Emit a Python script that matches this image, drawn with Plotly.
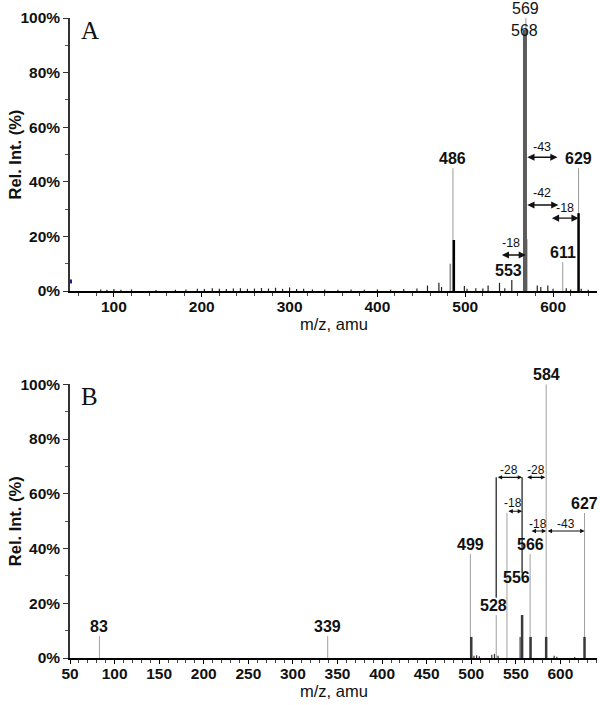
import plotly.graph_objects as go

# ---- Panel A data (m/z, relative intensity %) ----
a_leader_mz = [486, 569, 611, 629]
a_leader_top = [45, 100, 10.6, 45]
a_black_mz = [487, 629]
a_black_top = [18.7, 28.5]
a_grey_mz = [483, 570]
a_grey_top = [10, 19]
a_base_mz = [568]
a_base_top = [95.6]
a_noise_mz = [85, 92, 100, 108, 120, 148, 170, 182, 195, 203, 212, 220, 228, 236, 244,
              252, 260, 268, 276, 284, 292, 300, 308, 316, 326, 340, 355, 370, 385, 400,
              415, 430, 445, 457, 470, 473, 499, 502, 512, 520, 526, 539, 545, 553, 582,
              586, 594, 600, 615, 620, 632, 640]
a_noise_int = [0.6, 0.5, 0.7, 0.5, 0.6, 0.4, 0.5, 0.6, 0.8, 0.7, 1.0, 0.8, 0.7, 0.9, 1.0,
               0.8, 0.9, 1.1, 0.9, 1.2, 0.8, 1.3, 0.7, 0.8, 0.6, 0.6, 0.5, 0.6, 0.5, 0.6,
               0.5, 0.7, 0.9, 2.0, 3.0, 1.5, 1.8, 0.8, 1.0, 0.9, 2.0, 3.0, 1.0, 4.0, 2.0,
               1.5, 2.0, 0.8, 1.0, 0.6, 0.8, 0.5]
a_labels = ["486", "569", "568", "553", "611", "629"]
a_label_x = [486, 569, 568, 549, 611, 629]
a_label_y = [45, 100, 92, 4, 10.6, 45]
a_label_bold = [True, False, False, True, True, True]
# loss arrows
a_arrow_from = [569, 569, 597, 540]
a_arrow_to = [605, 606, 629, 569]
a_arrow_y = [49, 31.5, 26.7, 13.2]
a_arrow_txt = ["-43", "-42", "-18", "-18"]
a_arrow_tx = [587, 587, 614, 552]
a_arrow_ty = [52.7, 36, 30.4, 17.6]

# ---- Panel B data ----
b_leader_mz = [83, 339, 499, 528, 540, 566, 584, 627]
b_leader_top = [8, 8, 38, 15.7, 53, 38, 100, 53]
b_black_mz = [500, 557, 566.5, 584, 627]
b_black_top = [7.7, 15.7, 7.7, 7.7, 7.7]
b_grey_mz = [555]
b_grey_top = [7.7]
b_bracket_mz = [528, 557]
b_bracket_low = [22, 31]
b_bracket_high = [66, 66]
b_noise_mz = [503, 506, 509, 523, 526, 530, 593, 596, 616]
b_noise_int = [0.8, 1.0, 0.6, 1.2, 1.5, 0.8, 0.8, 0.5, 0.4]
b_labels = ["83", "339", "499", "528", "556", "566", "584", "627"]
b_label_x = [83, 339, 499, 524.5, 551, 566, 584, 627]
b_label_y = [8, 8, 38, 15.7, 26, 38, 100, 53]
b_label_bold = [True] * 8
b_arrow_from = [528, 561, 540, 566, 584]
b_arrow_to = [557, 583, 557, 584, 627]
b_arrow_y = [66, 66, 53.6, 46.4, 46.4]
b_arrow_txt = ["-28", "-28", "-18", "-18", "-43"]
b_arrow_tx = [542.6, 572.5, 546.7, 574.6, 606.7]
b_arrow_ty = [68.6, 68.6, 56.6, 49, 49]

y_ticks = [0, 20, 40, 60, 80, 100]
y_ticktext = ["0%", "20%", "40%", "60%", "80%", "100%"]

FONT = "Liberation Sans, Arial, sans-serif"


def sticks(mz, top, low=None):
    xs, ys = [], []
    for i, (m, t) in enumerate(zip(mz, top)):
        b = 0 if low is None else low[i]
        xs += [m, m, None]
        ys += [b, t, None]
    return xs, ys


fig = go.Figure()


def add_sticks(mz, top, color, width, xa, ya, low=None):
    xs, ys = sticks(mz, top, low)
    fig.add_trace(go.Scatter(x=xs, y=ys, mode="lines", line=dict(color=color, width=width),
                             xaxis=xa, yaxis=ya, hoverinfo="skip", showlegend=False,
                             cliponaxis=False))


# panel A
add_sticks(a_noise_mz, a_noise_int, "#222", 1.2, "x", "y")
add_sticks(a_leader_mz, a_leader_top, "#9a9a9a", 1, "x", "y")
add_sticks(a_grey_mz, a_grey_top, "#8a8a8a", 1.6, "x", "y")
add_sticks(a_base_mz, a_base_top, "#5c5c5c", 4, "x", "y")
add_sticks(a_black_mz, a_black_top, "#000", 2.5, "x", "y")
fig.add_trace(go.Scatter(x=[50], y=[3.5], mode="markers", xaxis="x", yaxis="y",
                         marker=dict(symbol="square", size=4, color="#202080"),
                         showlegend=False, cliponaxis=False, hoverinfo="skip"))

# panel B
add_sticks(b_noise_mz, b_noise_int, "#333", 1.2, "x2", "y2")
add_sticks(b_leader_mz, b_leader_top, "#a0a0a0", 1, "x2", "y2")
add_sticks(b_grey_mz, b_grey_top, "#777", 2, "x2", "y2")
add_sticks(b_black_mz, b_black_top, "#3a3a3a", 2.5, "x2", "y2")
add_sticks(b_bracket_mz, b_bracket_high, "#444", 1.5, "x2", "y2", low=b_bracket_low)

ann = []


def peak_labels(labels, lx, ly, bold, xr, yr, size=16):
    for t, x, y, b in zip(labels, lx, ly, bold):
        ann.append(dict(x=x, y=y, xref=xr, yref=yr, text=t, showarrow=False,
                        yanchor="bottom", yshift=-1,
                        font=dict(family=FONT, size=size, color="#111",
                                  weight="bold" if b else "normal")))


def loss_arrows(f, t, lev, txt, tx, ty, xr, yr, size=12.5, asize=1.1, awidth=1.3):
    for a, b, y, s, x2, y2 in zip(f, t, lev, txt, tx, ty):
        ann.append(dict(x=b, y=y, ax=a, ay=y, xref=xr, yref=yr, axref=xr, ayref=yr,
                        text="", showarrow=True, arrowhead=2, startarrowhead=2,
                        arrowside="end+start", arrowsize=asize, startarrowsize=asize,
                        arrowwidth=awidth, arrowcolor="#111"))
        ann.append(dict(x=x2, y=y2, xref=xr, yref=yr, text=s, showarrow=False,
                        font=dict(family=FONT, size=size, color="#111")))


peak_labels(a_labels, a_label_x, a_label_y, a_label_bold, "x", "y")
loss_arrows(a_arrow_from, a_arrow_to, a_arrow_y, a_arrow_txt, a_arrow_tx, a_arrow_ty, "x", "y")
peak_labels(b_labels, b_label_x, b_label_y, b_label_bold, "x2", "y2")
loss_arrows(b_arrow_from, b_arrow_to, b_arrow_y, b_arrow_txt, b_arrow_tx, b_arrow_ty,
            "x2", "y2", 12, 0.8, 1.1)

serif = dict(family="Liberation Serif, Times New Roman, serif", size=25, color="#111")
for xd, yd, letter in [("x domain", "y domain", "A"), ("x2 domain", "y2 domain", "B")]:
    ann.append(dict(x=0, y=1, xref=xd, yref=yd, text=letter, showarrow=False,
                    xanchor="left", yanchor="middle", xshift=9, yshift=-12, font=serif))
    # axis titles as annotations for exact placement
    ann.append(dict(x=0.5, y=0, xref=xd, yref=yd, text="m/z, amu", showarrow=False,
                    yanchor="middle", yshift=-33,
                    font=dict(family=FONT, size=16.5, color="#111")))
    ann.append(dict(x=0, y=0.5, xref=xd, yref=yd, text="Rel. Int. (%)", showarrow=False,
                    textangle=-90, xanchor="center", xshift=-55,
                    font=dict(family=FONT, size=16.5, color="#111", weight="bold")))

tickfont = dict(family=FONT, size=15.5, color="#111", weight="bold")


def xax(rng, tv, minor, anchor):
    return dict(range=rng, tickvals=tv, anchor=anchor, showline=True, linecolor="#000",
                linewidth=1.5, ticks="outside", ticklen=4, tickcolor="#000", tickwidth=1,
                ticklabelstandoff=-3,
                minor=dict(dtick=minor, tick0=0, ticks="outside", ticklen=3, tickcolor="#444"),
                showgrid=False, zeroline=False, tickfont=tickfont, automargin=False)


def yax(dom, anchor):
    return dict(domain=dom, range=[0, 100], tickvals=y_ticks, ticktext=y_ticktext,
                anchor=anchor, showline=True, linecolor="#333", linewidth=1.5,
                ticks="outside", ticklen=5, tickcolor="#333",
                minor=dict(dtick=10, ticks="outside", ticklen=3, tickcolor="#555"),
                showgrid=False, zeroline=False, tickfont=tickfont, automargin=False)


fig.update_layout(
    width=600, height=705,
    margin=dict(l=70, r=3, t=18, b=47),
    plot_bgcolor="white", paper_bgcolor="white",
    xaxis=xax([50, 650], [100, 200, 300, 400, 500, 600], 20, "y"),
    yaxis=yax([0.5734, 1.0], "x"),
    xaxis2=xax([50, 641], list(range(50, 601, 50)), 10, "y2"),
    yaxis2=yax([0.0, 0.4277], "x2"),
    annotations=ann,
    showlegend=False,
)

# the page body has a default 8px margin; drop it so the figure sits at the window corner
fig.write_html("out.html", config={"displayModeBar": False},
               post_script="document.body.style.margin='0';")
